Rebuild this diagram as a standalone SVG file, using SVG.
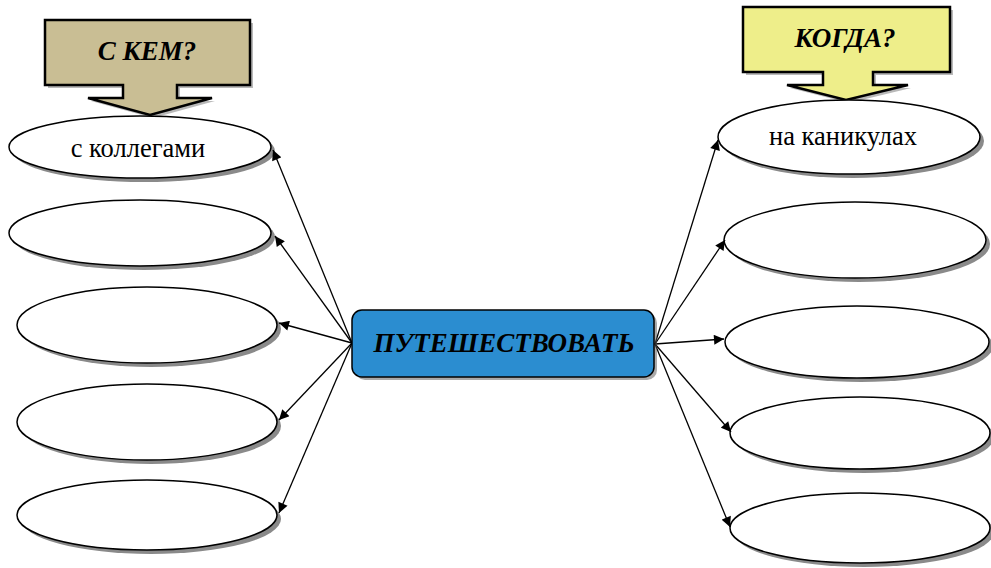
<svg xmlns="http://www.w3.org/2000/svg" width="991" height="568" viewBox="0 0 991 568">
  <defs>
    <style>
      .oval { fill: #ffffff; stroke: #000000; stroke-width: 1.5; }
      .shadow { fill: #8a8a8a; }
      .label { font-family: "Liberation Serif", "Times New Roman", serif; font-size: 26.5px; fill: #000000; text-anchor: middle; }
      .head { font-family: "Liberation Serif", "Times New Roman", serif; font-size: 27px; font-weight: bold; font-style: italic; fill: #000000; text-anchor: middle; }
      .link { stroke: #000000; stroke-width: 1.3; fill: none; marker-end: url(#tip); }
      .callout { stroke: #000000; stroke-width: 2.5; stroke-linejoin: miter; }
    </style>
    <marker id="tip" viewBox="0 0 10 10" refX="10" refY="5" markerWidth="12" markerHeight="10" markerUnits="userSpaceOnUse" orient="auto">
      <path d="M0,0 L10,5 L0,10 Z" fill="#000000"/>
    </marker>
  </defs>

  <!-- question callout: with whom -->
  <g id="callout-with-whom">
    <path class="shadow" d="M48,23 H253 V88 H180 V101 H215 L153,118 L91,101 H126 V88 H48 Z" opacity="0.6"/>
    <path class="callout" fill="#C9BE94" d="M45,20 H250 V85 H177 V98 H212 L150,115 L88,98 H123 V85 H45 Z"/>
    <text class="head" x="147" y="60">С КЕМ?</text>
  </g>

  <!-- question callout: when -->
  <g id="callout-when">
    <path class="shadow" d="M746,10 H953 V75 H876 V88 H911 L849,103 L790,88 H826 V75 H746 Z" opacity="0.6"/>
    <path class="callout" fill="#EEEE8A" d="M743,7 H950 V72 H873 V85 H908 L846,100 L787,85 H823 V72 H743 Z"/>
    <text class="head" x="845" y="47">КОГДА?</text>
  </g>

  <!-- left column ovals -->
  <g id="left-1">
    <ellipse class="shadow" cx="144" cy="151" rx="131" ry="31"/>
    <ellipse class="oval" cx="140" cy="147" rx="131" ry="31"/>
    <text class="label" x="138" y="157">с коллегами</text>
  </g>
  <g id="left-2">
    <ellipse class="shadow" cx="144" cy="237" rx="131" ry="33"/>
    <ellipse class="oval" cx="140" cy="233" rx="131" ry="33"/>
  </g>
  <g id="left-3">
    <ellipse class="shadow" cx="151" cy="329" rx="130" ry="38"/>
    <ellipse class="oval" cx="147" cy="325" rx="130" ry="38"/>
  </g>
  <g id="left-4">
    <ellipse class="shadow" cx="151" cy="426" rx="130" ry="38"/>
    <ellipse class="oval" cx="147" cy="422" rx="130" ry="38"/>
  </g>
  <g id="left-5">
    <ellipse class="shadow" cx="151" cy="519" rx="130" ry="35"/>
    <ellipse class="oval" cx="147" cy="515" rx="130" ry="35"/>
  </g>

  <!-- right column ovals -->
  <g id="right-1">
    <ellipse class="shadow" cx="853" cy="141" rx="131" ry="37"/>
    <ellipse class="oval" cx="849" cy="137" rx="131" ry="37"/>
    <text class="label" x="843" y="145">на каникулах</text>
  </g>
  <g id="right-2">
    <ellipse class="shadow" cx="859" cy="244" rx="131" ry="38"/>
    <ellipse class="oval" cx="855" cy="240" rx="131" ry="38"/>
  </g>
  <g id="right-3">
    <ellipse class="shadow" cx="861" cy="346" rx="132" ry="36"/>
    <ellipse class="oval" cx="857" cy="342" rx="132" ry="36"/>
  </g>
  <g id="right-4">
    <ellipse class="shadow" cx="864" cy="437" rx="130" ry="36"/>
    <ellipse class="oval" cx="860" cy="433" rx="130" ry="36"/>
  </g>
  <g id="right-5">
    <ellipse class="shadow" cx="864" cy="532" rx="130" ry="35"/>
    <ellipse class="oval" cx="860" cy="528" rx="130" ry="35"/>
  </g>

  <!-- connectors from the central verb -->
  <g id="connectors">
    <line class="link" x1="352" y1="343" x2="273" y2="150"/>
    <line class="link" x1="352" y1="343" x2="275" y2="236"/>
    <line class="link" x1="352" y1="343" x2="279" y2="323"/>
    <line class="link" x1="352" y1="343" x2="279" y2="420"/>
    <line class="link" x1="352" y1="343" x2="279" y2="513"/>
    <line class="link" x1="655" y1="344" x2="718" y2="140"/>
    <line class="link" x1="655" y1="344" x2="725" y2="240"/>
    <line class="link" x1="655" y1="344" x2="724" y2="339"/>
    <line class="link" x1="655" y1="344" x2="731" y2="432"/>
    <line class="link" x1="655" y1="344" x2="730" y2="527"/>
  </g>

  <!-- central verb -->
  <g id="center">
    <rect x="355" y="313" width="302" height="67" rx="10" ry="10" fill="#555555" opacity="0.5"/>
    <rect x="352" y="310" width="302" height="67" rx="10" ry="10" fill="#2B8DD0" stroke="#000000" stroke-width="1.5"/>
    <text class="head" x="504" y="352" font-size="28">ПУТЕШЕСТВОВАТЬ</text>
  </g>
</svg>
